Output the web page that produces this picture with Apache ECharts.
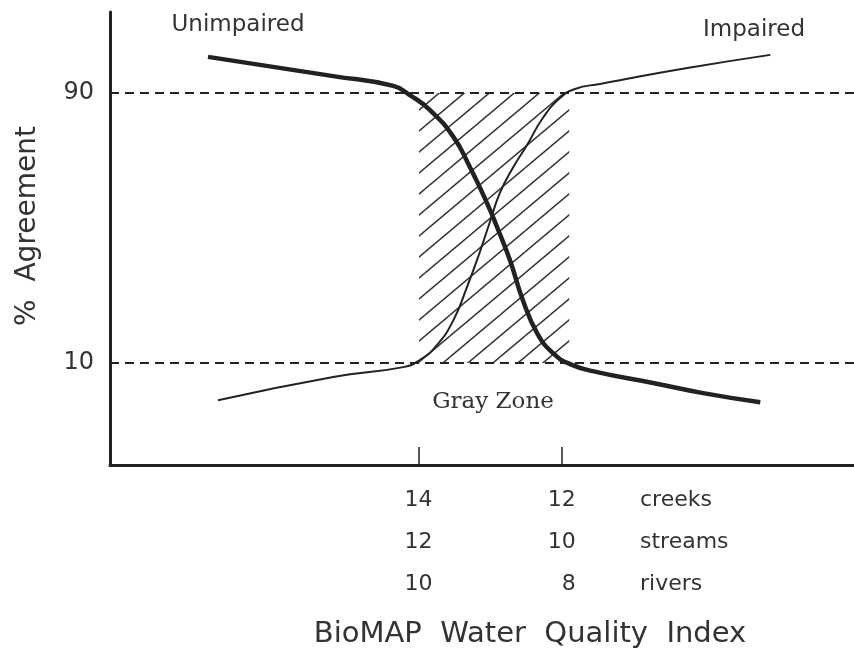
<!DOCTYPE html>
<html>
<head>
<meta charset="utf-8">
<script src="https://cdn.jsdelivr.net/npm/echarts@6/dist/echarts.min.js"></script>
<style>
html, body { margin: 0; padding: 0; background: #fff; }
#main { width: 854px; height: 656px; }
</style>
</head>
<body>
<div id="main"></div>
<script>
// index scale per water body type (x axis runs creeks units)
var creeks = [14, 12];
var streams = [12, 10];
var rivers = [10, 8];
var rowNames = ['creeks', 'streams', 'rivers'];
var yTicks = [10, 90];
var grayZone = [14, 11.9];

// [index (creeks), % agreement]
var unimpaired = [
  [16.95, 100.7], [15.2, 95.0], [14.36, 92.1], [14.13, 89.4], [13.85, 85.0],
  [13.52, 77.0], [13.29, 68.1], [13.05, 57.4], [12.91, 50.3], [12.73, 40.5],
  [12.55, 28.7], [12.35, 18.9], [12.13, 13.0], [11.89, 9.7], [11.51, 7.3],
  [10.73, 4.1], [10.03, 1.1], [9.23, -1.6]
];
var impaired = [
  [16.81, -1.0], [15.2, 5.9], [14.22, 8.8], [13.99, 10.9], [13.75, 15.3],
  [13.52, 22.7], [13.33, 32.5], [13.15, 42.9], [13.01, 51.8], [12.87, 60.4],
  [12.69, 67.8], [12.49, 74.6], [12.27, 82.6], [12.03, 88.5], [11.82, 91.2],
  [11.47, 92.7], [10.25, 97.4], [9.09, 101.3]
];

var dom = document.getElementById('main');
var myChart = echarts.init(dom, null, { renderer: 'canvas' });

var ink = '#222';
var textColor = '#333';

// diagonal hatch tile for the gray zone
function hatchTile(w, h) {
  var c = document.createElement('canvas');
  c.width = w;
  c.height = h;
  var ctx = c.getContext('2d');
  ctx.strokeStyle = '#333';
  ctx.lineWidth = 1.5;
  for (var k = -1; k <= 1; k++) {
    for (var j = -1; j <= 1; j++) {
      ctx.beginPath();
      ctx.moveTo(k * w, h + j * h);
      ctx.lineTo(k * w + w, j * h);
      ctx.stroke();
    }
  }
  return c;
}

var option = {
  backgroundColor: '#fff',
  animation: false,
  grid: { left: 110, right: 0, top: 12, bottom: 191 },
  xAxis: {
    type: 'value',
    inverse: true,
    min: 7.92,
    max: 18.32,
    splitLine: { show: false },
    axisLine: { onZero: false, lineStyle: { color: ink, width: 3 } },
    axisTick: {
      customValues: creeks,
      inside: true,
      length: 18,
      lineStyle: { color: ink, width: 1.5 }
    },
    axisLabel: {
      customValues: creeks,
      margin: 14,
      formatter: function (v) {
        var i = creeks.indexOf(v);
        return '{a|' + creeks[i] + '}\n{a|' + streams[i] + '}\n{a|' + rivers[i] + '}';
      },
      rich: {
        a: {
          width: 27,
          align: 'right',
          lineHeight: 42,
          fontSize: 22,
          fontFamily: 'DejaVu Sans',
          color: textColor
        }
      }
    }
  },
  yAxis: {
    type: 'value',
    min: -20.2,
    max: 114,
    splitLine: { show: false },
    axisLine: { show: true, onZero: false, lineStyle: { color: ink, width: 3 } },
    axisTick: { show: false },
    axisLabel: {
      customValues: yTicks,
      margin: 16,
      fontSize: 24,
      fontFamily: 'DejaVu Sans',
      color: textColor
    }
  },
  series: [
    {
      name: 'Unimpaired',
      type: 'line',
      data: unimpaired,
      smooth: 0.5,
      symbol: 'none',
      z: 3,
      lineStyle: { color: ink, width: 4.5 },
      markLine: {
        silent: true,
        symbol: 'none',
        label: { show: false },
        lineStyle: { color: ink, width: 2, type: [9, 6] },
        data: yTicks.map(function (v) { return { yAxis: v }; })
      },
      markArea: {
        silent: true,
        itemStyle: {
          color: { image: hatchTile(25, 21), repeat: 'repeat' }
        },
        data: [[
          { xAxis: grayZone[0], yAxis: yTicks[1] },
          { xAxis: grayZone[1], yAxis: yTicks[0] }
        ]]
      }
    },
    {
      name: 'Impaired',
      type: 'line',
      data: impaired,
      smooth: 0.5,
      symbol: 'none',
      z: 3,
      lineStyle: { color: ink, width: 2 }
    }
  ],
  graphic: [
    {
      type: 'text', x: 238, y: 25,
      style: { text: 'Unimpaired', fill: textColor, font: '23px "DejaVu Sans"', align: 'center', verticalAlign: 'middle' }
    },
    {
      type: 'text', x: 754, y: 30,
      style: { text: 'Impaired', fill: textColor, font: '23px "DejaVu Sans"', align: 'center', verticalAlign: 'middle' }
    },
    {
      type: 'text', x: 493, y: 402,
      style: { text: 'Gray Zone', fill: textColor, font: '23px "DejaVu Serif"', align: 'center', verticalAlign: 'middle' }
    },
    {
      type: 'text', x: 640, y: 479,
      style: { text: rowNames.join('\n'), fill: textColor, font: '22px "DejaVu Sans"', lineHeight: 42, align: 'left', verticalAlign: 'top' }
    },
    {
      type: 'text', x: 530, y: 634,
      style: { text: 'BioMAP  Water  Quality  Index', fill: textColor, font: '29px "DejaVu Sans"', align: 'center', verticalAlign: 'middle' }
    },
    {
      type: 'text', x: 28, y: 226, rotation: Math.PI / 2,
      style: { text: '%  Agreement', fill: textColor, font: '28px "DejaVu Sans"', align: 'center', verticalAlign: 'middle' }
    }
  ]
};

myChart.setOption(option);
window.addEventListener('resize', myChart.resize);
</script>
</body>
</html>
